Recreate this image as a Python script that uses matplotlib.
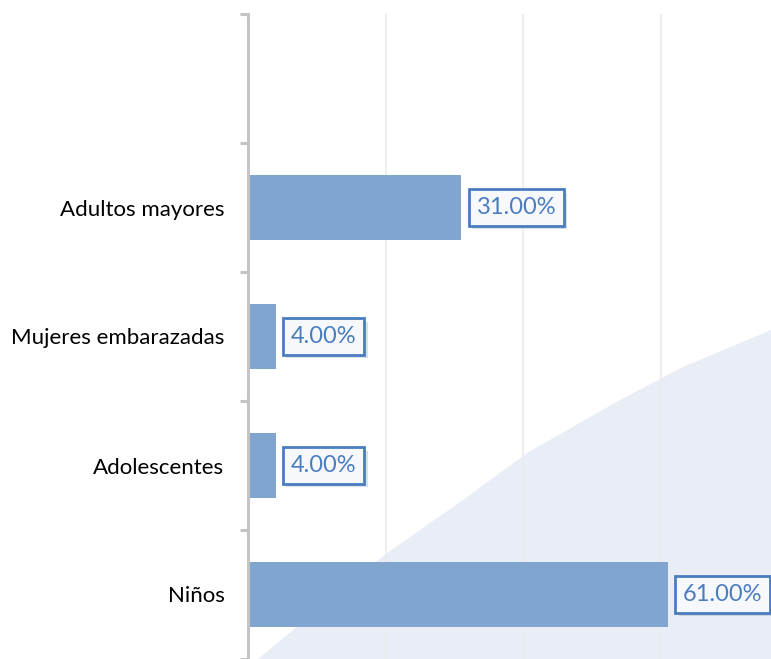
import numpy as np
import matplotlib
matplotlib.use('Agg')
from matplotlib import pyplot as plt
from matplotlib import patheffects
from matplotlib.patches import Polygon

## Data (bottom to top)
categories = ['Niños', 'Adolescentes', 'Mujeres embarazadas', 'Adultos mayores', '']
values = [61.0, 4.0, 4.0, 31.0, None]
grid_vals = [20, 40, 60]

bar_color = '#80a5cf'
label_color = '#4a7dc0'

plt.rcParams['font.family'] = ['Lato', 'DejaVu Sans']

fig = plt.figure(figsize=(7.71, 6.59), dpi=100)
ax = fig.add_axes([248/771, 0.0, 1 - 248/771, 645/659])
ax.patch.set_alpha(0)

## Background decorative shape (light blue curved wedge), pixel outline -> axes coords
px_pts = [(258, 659), (387, 553), (463, 500), (527, 453), (620, 400),
          (683, 367), (771, 330), (771, 659)]
ax_pts = [((x - 248) / 523.0, (659 - y) / 645.0) for x, y in px_pts]
bg = Polygon(ax_pts, closed=True, transform=ax.transAxes, facecolor='#e9eef6',
             edgecolor='none', zorder=0, clip_on=False)
ax.add_patch(bg)

ypos = np.arange(len(categories))
for y, v in zip(ypos, values):
    if v is None:
        continue
    ax.barh(y, v, height=0.5, color=bar_color, zorder=3)
    t = ax.annotate('%.2f%%' % v, xy=(v, y), xytext=(11, 0), textcoords='offset points',
                    ha='left', va='center', fontsize=17, color=label_color, zorder=5,
                    bbox=dict(boxstyle='square,pad=0.33', facecolor='#f6f8fc',
                              edgecolor=label_color, linewidth=2.0))
    t.get_bbox_patch().set_path_effects([
        patheffects.withSimplePatchShadow(offset=(2.5, -2.5), shadow_rgbFace='#8a9bb5', alpha=0.3)])

ax.set_xlim(0, 76)
ax.set_ylim(-0.5, len(categories) - 0.5)

# gridlines
for g in grid_vals:
    ax.axvline(g, color='#ebebeb', lw=1.2, zorder=1)

# axes styling
for s in ['top', 'right', 'bottom']:
    ax.spines[s].set_visible(False)
ax.spines['left'].set_color('#c4c4c4')
ax.spines['left'].set_linewidth(2.2)
ax.spines['left'].set_zorder(4)
ax.set_xticks([])
ax.set_yticks(ypos)
ax.set_yticklabels(categories, fontsize=16, color='#000000')
ax.set_yticks(np.arange(-0.5, len(categories)), minor=True)
ax.tick_params(axis='y', which='major', length=0, pad=17)
ax.tick_params(axis='y', which='minor', length=6, width=2.2, color='#c4c4c4')

fig.savefig('out.png', dpi=100)
